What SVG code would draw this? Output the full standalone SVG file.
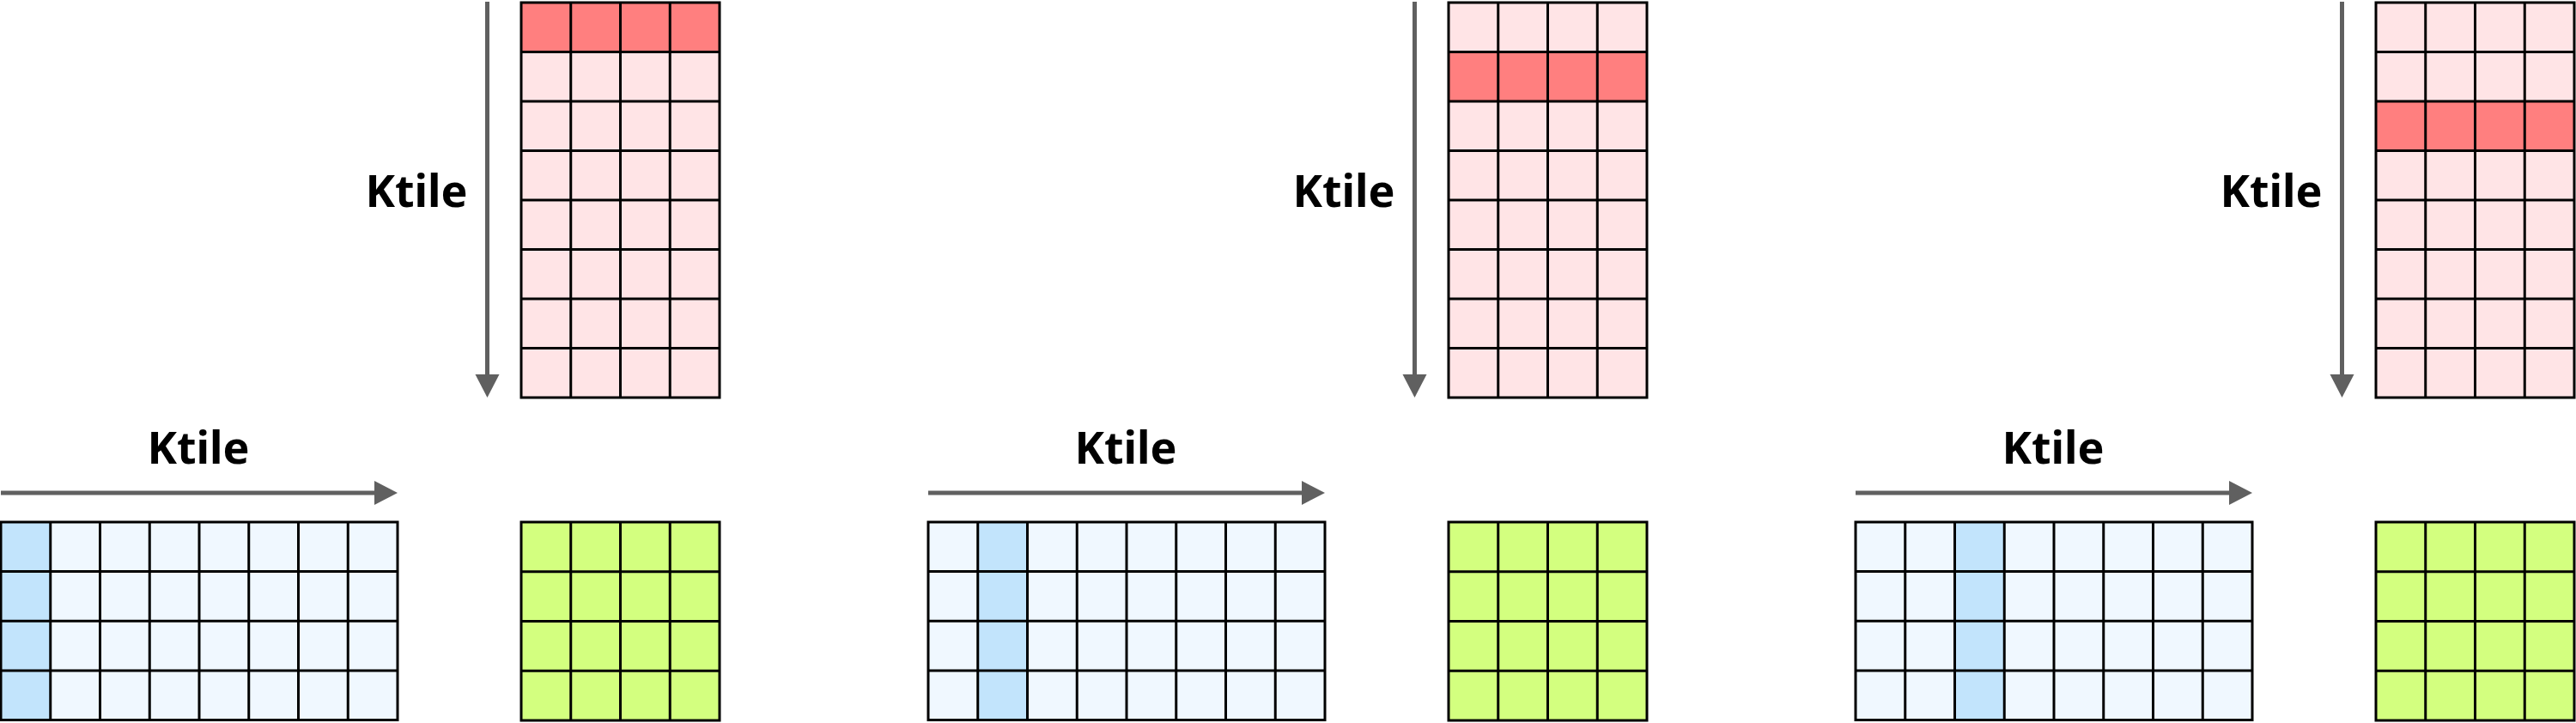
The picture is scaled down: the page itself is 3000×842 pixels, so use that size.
<svg xmlns="http://www.w3.org/2000/svg" xmlns:xlink="http://www.w3.org/1999/xlink" width="3000" height="842" viewBox="0 0 3000 842">
<style>
.lbl{font-family:"Noto Sans","Open Sans","Liberation Sans",sans-serif;font-weight:bold;font-size:52px;fill:#000;text-anchor:middle}
.gl{fill:none;stroke:#000;stroke-width:3;stroke-linejoin:miter}
.pink{fill:#FFE4E6}
.red{fill:#FF7F7F}
.lblue{fill:#F0F8FF}
.blue{fill:#C2E4FC}
.green{fill:#D3FF7F}
.arr{stroke:#606060;stroke-width:5;fill:none}
</style>
<defs>
<marker id="ah" markerUnits="userSpaceOnUse" markerWidth="28" markerHeight="30" refX="0" refY="14" orient="auto">
<path d="M0,0 L27,14 L0,28 Z" fill="#606060"/>
</marker>
<path id="gridA" class="gl" d="M0,0H231V460H0Z M57.75,0V460 M115.5,0V460 M173.25,0V460 M0,57.5H231 M0,115H231 M0,172.5H231 M0,230H231 M0,287.5H231 M0,345H231 M0,402.5H231"/>
<path id="gridB" class="gl" d="M0,0H462V230.5H0Z M57.75,0V230.5 M115.5,0V230.5 M173.25,0V230.5 M231,0V230.5 M288.75,0V230.5 M346.5,0V230.5 M404.25,0V230.5 M0,57.6H462 M0,115.25H462 M0,172.9H462"/>
<path id="gridC" class="gl" d="M0,0H231V231H0Z M57.75,0V231 M115.5,0V231 M173.25,0V231 M0,57.75H231 M0,115.5H231 M0,173.25H231"/>
</defs>

<g id="panel1">
<g id="p1-top">
<rect class="pink" x="607" y="3" width="231" height="460"/>
<rect class="red" x="607" y="3" width="231" height="57.5"/>
<use xlink:href="#gridA" x="607" y="3"/>
</g>
<g id="p1-left">
<rect class="lblue" x="1" y="608" width="462" height="230.5"/>
<rect class="blue" x="1" y="608" width="57.75" height="230.5"/>
<use xlink:href="#gridB" x="1" y="608"/>
</g>
<g id="p1-out">
<rect class="green" x="607" y="608" width="231" height="231"/>
<use xlink:href="#gridC" x="607" y="608"/>
</g>
<g id="p1-vlabel"><text class="lbl" x="485" y="241">Ktile</text></g>
<g id="p1-hlabel"><text class="lbl" x="231" y="540">Ktile</text></g>
</g>

<g id="panel2">
<g id="p2-top">
<rect class="pink" x="1687" y="3" width="231" height="460"/>
<rect class="red" x="1687" y="60.5" width="231" height="57.5"/>
<use xlink:href="#gridA" x="1687" y="3"/>
</g>
<g id="p2-left">
<rect class="lblue" x="1081" y="608" width="462" height="230.5"/>
<rect class="blue" x="1138.75" y="608" width="57.75" height="230.5"/>
<use xlink:href="#gridB" x="1081" y="608"/>
</g>
<g id="p2-out">
<rect class="green" x="1687" y="608" width="231" height="231"/>
<use xlink:href="#gridC" x="1687" y="608"/>
</g>
<g id="p2-vlabel"><text class="lbl" x="1565" y="241">Ktile</text></g>
<g id="p2-hlabel"><text class="lbl" x="1311" y="540">Ktile</text></g>
</g>

<g id="panel3">
<g id="p3-top">
<rect class="pink" x="2767" y="3" width="231" height="460"/>
<rect class="red" x="2767" y="118" width="231" height="57.5"/>
<use xlink:href="#gridA" x="2767" y="3"/>
</g>
<g id="p3-left">
<rect class="lblue" x="2161" y="608" width="462" height="230.5"/>
<rect class="blue" x="2276.5" y="608" width="57.75" height="230.5"/>
<use xlink:href="#gridB" x="2161" y="608"/>
</g>
<g id="p3-out">
<rect class="green" x="2767" y="608" width="231" height="231"/>
<use xlink:href="#gridC" x="2767" y="608"/>
</g>
<g id="p3-vlabel"><text class="lbl" x="2645" y="241">Ktile</text></g>
<g id="p3-hlabel"><text class="lbl" x="2391" y="540">Ktile</text></g>
</g>

<g id="connectors">
<line class="arr" x1="567.5" y1="2" x2="567.5" y2="436" marker-end="url(#ah)"/>
<line class="arr" x1="1" y1="574" x2="436" y2="574" marker-end="url(#ah)"/>
<line class="arr" x1="1647.5" y1="2" x2="1647.5" y2="436" marker-end="url(#ah)"/>
<line class="arr" x1="1081" y1="574" x2="1516" y2="574" marker-end="url(#ah)"/>
<line class="arr" x1="2727.5" y1="2" x2="2727.5" y2="436" marker-end="url(#ah)"/>
<line class="arr" x1="2161" y1="574" x2="2596" y2="574" marker-end="url(#ah)"/>
</g>
</svg>
